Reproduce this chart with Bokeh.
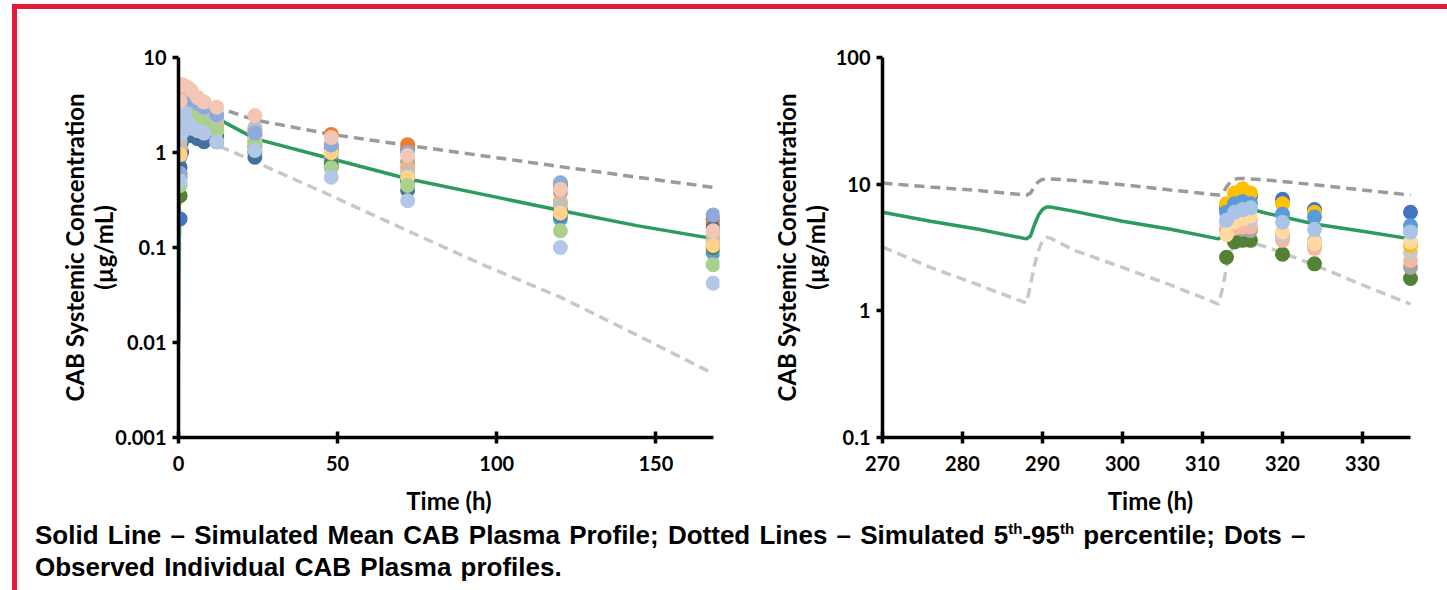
from bokeh.plotting import figure
from bokeh.models import Range1d, FixedTicker, CustomJSTickFormatter, Div
from bokeh.layouts import row, column
from bokeh.embed import file_html
from bokeh.resources import INLINE

# ---------------- simulated profiles : left panel (first dose) ----------------
sim_t_left = [0, 0.25, 0.5, 1, 2, 3, 4, 6, 8, 12, 24, 48, 72, 96, 120, 144, 168]
sim_mean_left = [0.01, 0.3, 0.9, 1.8, 2.6, 2.9, 3.0, 2.9, 2.7, 2.3, 1.4, 0.86, 0.53, 0.36, 0.245, 0.17, 0.124]
sim_p95_left = [0.01, 1.5, 3.0, 4.2, 4.6, 4.6, 4.5, 4.0, 3.6, 3.0, 2.2, 1.55, 1.19, 0.92, 0.71, 0.55, 0.43]
sim_p05_left = [0.004, 0.05, 0.2, 0.6, 1.0, 1.2, 1.35, 1.4, 1.35, 1.2, 0.8, 0.35, 0.15, 0.065, 0.03, 0.012, 0.0047]

# ---------------- simulated profiles : right panel (steady state) ----------------
sim_t_right = [270, 276, 282, 288, 288.5, 289, 289.5, 290, 290.5, 291, 294, 300, 306, 312,
               312.5, 313, 313.5, 314, 314.5, 315, 318, 324, 330, 336]
sim_mean_right = [6.0, 5.1, 4.4, 3.7, 3.9, 4.8, 5.7, 6.3, 6.6, 6.6, 6.1, 5.1, 4.4, 3.7,
                  3.9, 4.8, 5.7, 6.3, 6.6, 6.6, 5.9, 4.85, 4.25, 3.7]
sim_p95_right = [10.2, 9.5, 8.9, 8.2, 8.5, 9.6, 10.5, 10.9, 11.0, 11.0, 10.7, 9.9, 9.0, 8.2,
                 8.4, 9.5, 10.4, 10.9, 11.1, 11.1, 10.8, 9.9, 9.0, 8.2]
sim_p05_right = [3.2, 2.2, 1.6, 1.15, 1.6, 2.3, 3.0, 3.6, 3.8, 3.75, 3.0, 2.2, 1.6, 1.13,
                 1.5, 2.2, 2.9, 3.4, 3.6, 3.6, 3.2, 2.3, 1.6, 1.13]

# ---------------- observed individual profiles : left panel ----------------
obs_t_left = [0.5, 1, 2, 3, 4, 6, 8, 12, 24, 48, 72, 120, 168]
obs_left_s01 = [0.2, 1.0, 2.2, 3.0, 3.3, 3.0, 2.6, 2.2, 1.5, 1.1, 1.08, 0.45, 0.2]
obs_left_s02 = [1.2, 2.0, 2.6, 2.8, 2.7, 2.5, 2.3, 2.0, 1.7, 1.55, 1.21, 0.47, 0.18]
obs_left_s03 = [0.9, 1.8, 2.4, 2.6, 2.5, 2.3, 2.1, 1.9, 1.3, 1.0, 0.8, 0.38, 0.13]
obs_left_s04 = [0.6, 1.5, 2.0, 2.2, 2.2, 2.0, 1.8, 1.6, 1.2, 0.9, 0.7, 0.3, 0.12]
obs_left_s05 = [0.55, 1.4, 2.5, 2.7, 2.6, 2.3, 2.0, 1.7, 1.15, 0.82, 0.52, 0.2, 0.088]
obs_left_s06 = [0.35, 1.3, 2.0, 2.3, 2.2, 2.0, 1.8, 1.5, 1.0, 0.75, 0.5, 0.25, 0.1]
obs_left_s07 = [0.7, 1.5, 1.8, 1.6, 1.5, 1.4, 1.3, 1.3, 0.89, 0.7, 0.40, 0.22, 0.16]
obs_left_s08 = [1.1, 2.2, 2.8, 3.0, 2.9, 2.6, 2.3, 2.0, 1.6, 1.2, 0.69, 0.3, 0.14]
obs_left_s09 = [1.3, 2.5, 3.0, 3.2, 3.0, 2.7, 2.5, 2.3, 1.83, 1.0, 0.62, 0.28, 0.12]
obs_left_s10 = [0.95, 1.9, 2.3, 2.4, 2.3, 2.1, 1.9, 1.7, 1.4, 1.0, 0.55, 0.23, 0.105]
obs_left_s11 = [0.45, 1.8, 2.5, 2.6, 2.5, 2.2, 2.0, 1.7, 1.27, 0.69, 0.45, 0.15, 0.066]
obs_left_s12 = [0.6, 1.7, 3.5, 3.8, 3.6, 3.3, 3.0, 2.5, 1.6, 1.2, 1.0, 0.48, 0.22]
obs_left_s13 = [0.5, 1.6, 2.6, 2.0, 1.8, 1.7, 1.6, 1.3, 1.05, 0.55, 0.31, 0.10, 0.042]
obs_left_s14 = [3.5, 5.2, 5.0, 4.8, 4.5, 3.8, 3.4, 3.0, 2.45, 1.44, 0.93, 0.41, 0.15]
obs_left_colors = ["#4472C4", "#ED7D31", "#A5A5A5", "#FFC000", "#5B9BD5", "#548235", "#41719C",
                   "#F4B183", "#C0C0C0", "#FFD28A", "#A9D18E", "#8EA9DB", "#B4C7E7", "#F4C7B4"]

# ---------------- observed individual profiles : right panel ----------------
obs_t_right = [313, 314, 315, 316, 320, 324, 336]
obs_right_s01 = [2.65, 3.5, 3.6, 3.6, 2.8, 2.35, 1.8]
obs_right_s02 = [4.3, 4.5, 4.4, 4.3, 3.9, 3.3, 2.2]
obs_right_s03 = [4.5, 4.5, 4.6, 4.6, 3.6, 3.1, 2.5]
obs_right_s04 = [5.0, 5.0, 5.5, 5.2, 4.0, 3.6, 2.9]
obs_right_s05 = [6.5, 7.5, 8.0, 8.0, 7.6, 6.3, 6.0]
obs_right_s06 = [7.0, 8.5, 9.2, 8.5, 7.0, 6.0, 3.3]
obs_right_s07 = [6.0, 7.0, 7.3, 7.0, 5.8, 5.5, 4.7]
obs_right_s08 = [4.0, 5.0, 5.3, 5.6, 4.2, 3.4, 3.5]
obs_right_s09 = [5.2, 6.0, 6.3, 6.5, 5.0, 4.4, 4.2]
obs_right_colors = ["#548235", "#A5A5A5", "#F4B9A3", "#C9C9C9", "#4472C4", "#FFC000",
                    "#5B9BD5", "#FFD9A0", "#A9C4E8"]

# ---------------- tick labels ----------------
left_xticks = [0, 50, 100, 150]
left_yticks = [0.001, 0.01, 0.1, 1, 10]
right_xticks = [270, 280, 290, 300, 310, 320, 330]
right_yticks = [0.1, 1, 10, 100]

y_label = "CAB Systemic Concentration\n(µg/mL)"
x_label = "Time (h)"

FONT = "Lato"
MEAN_COLOR = "#2C9B5E"
P95_COLOR = "#9A9A9A"
P05_COLOR = "#C8C8C8"


def style(p, xticks, yticks, xbounds, ylab_standoff):
    p.xgrid.visible = False
    p.ygrid.visible = False
    p.outline_line_color = None
    p.xaxis.ticker = FixedTicker(ticks=xticks)
    p.yaxis.ticker = FixedTicker(ticks=yticks)
    p.yaxis.formatter = CustomJSTickFormatter(code="return tick.toString();")
    p.xaxis.bounds = xbounds
    for ax in (p.xaxis[0], p.yaxis[0]):
        ax.axis_line_width = 3.5
        ax.axis_line_color = "black"
        ax.major_tick_line_width = 3.5
        ax.major_tick_line_color = "black"
        ax.major_tick_out = 6
        ax.minor_tick_in = 0
        ax.minor_tick_out = 0
        ax.major_label_text_font = FONT
        ax.major_label_text_font_style = "bold"
        ax.major_label_text_font_size = "20px"
        ax.major_label_text_color = "black"
        ax.axis_label_text_font = FONT
        ax.axis_label_text_font_style = "bold"
        ax.axis_label_text_font_size = "24px"
        ax.axis_label_text_line_height = 1.0
        ax.axis_label_text_color = "black"
    p.xaxis.major_tick_in = 6
    p.yaxis.major_tick_in = 0
    p.xaxis.major_label_standoff = 12
    p.yaxis.major_label_standoff = 6
    p.xaxis.axis_label = x_label
    p.yaxis.axis_label = y_label
    p.xaxis.axis_label_standoff = 12
    p.yaxis.axis_label_standoff = ylab_standoff


# ---------------- left panel ----------------
p1 = figure(width=735, height=508, x_range=Range1d(0, 170), y_range=Range1d(0.001, 10),
            y_axis_type="log", output_backend="svg", toolbar_location=None,
            min_border_left=161, min_border_right=33, min_border_top=48, min_border_bottom=80)
style(p1, left_xticks, left_yticks, (0, 168), -6)

p1.line(sim_t_left, sim_p95_left, line_color=P95_COLOR, line_width=3.5, line_dash="10 6")
p1.line(sim_t_left, sim_p05_left, line_color=P05_COLOR, line_width=3.5, line_dash="10 6")
p1.line(sim_t_left, sim_mean_left, line_color=MEAN_COLOR, line_width=3.5)

left_series = [obs_left_s01, obs_left_s02, obs_left_s03, obs_left_s04, obs_left_s05,
               obs_left_s06, obs_left_s07, obs_left_s08, obs_left_s09, obs_left_s10,
               obs_left_s11, obs_left_s12, obs_left_s13, obs_left_s14]
for vals, col in zip(left_series, obs_left_colors):
    p1.scatter(obs_t_left, vals, size=15, fill_color=col, line_color=None)

# ---------------- right panel ----------------
p2 = figure(width=693, height=508, x_range=Range1d(270, 337), y_range=Range1d(0.1, 100),
            y_axis_type="log", output_backend="svg", toolbar_location=None,
            min_border_left=130, min_border_right=27, min_border_top=46, min_border_bottom=80)
style(p2, right_xticks, right_yticks, (270, 336), 3)

p2.line(sim_t_right, sim_p95_right, line_color=P95_COLOR, line_width=3.5, line_dash="10 6")
p2.line(sim_t_right, sim_p05_right, line_color=P05_COLOR, line_width=3.5, line_dash="10 6")
p2.line(sim_t_right, sim_mean_right, line_color=MEAN_COLOR, line_width=3.5)

right_series = [obs_right_s01, obs_right_s02, obs_right_s03, obs_right_s04, obs_right_s05,
                obs_right_s06, obs_right_s07, obs_right_s08, obs_right_s09]
for vals, col in zip(right_series, obs_right_colors):
    p2.scatter(obs_t_right, vals, size=15, fill_color=col, line_color=None)

# ---------------- caption ----------------
sup = '<sup style="font-size:15px; line-height:0;">th</sup>'
caption_html = (
    '<div style="font-family: \'Liberation Sans\', Arial, sans-serif; font-weight: bold; '
    'font-size: 26px; line-height: 32px; word-spacing: 2px; color: #000; padding-left: 13px; '
    'margin-top: -3px; white-space: nowrap;">'
    'Solid Line – Simulated Mean CAB Plasma Profile; Dotted Lines – Simulated 5' + sup +
    '-95' + sup + ' percentile; Dots –<br>Observed Individual CAB Plasma profiles.</div>'
)
cap = Div(text=caption_html, width=1428, height=73)

root = column(row(p1, p2), cap,
              styles={"border-left": "5px solid #E41B3C", "border-top": "5px solid #E41B3C",
                      "border-right": "1px solid #F07A8C", "margin-top": "4px",
                      "margin-left": "12px", "margin-bottom": "0px"})

with open("out.html", "w") as f:
    f.write(file_html(root, INLINE))
